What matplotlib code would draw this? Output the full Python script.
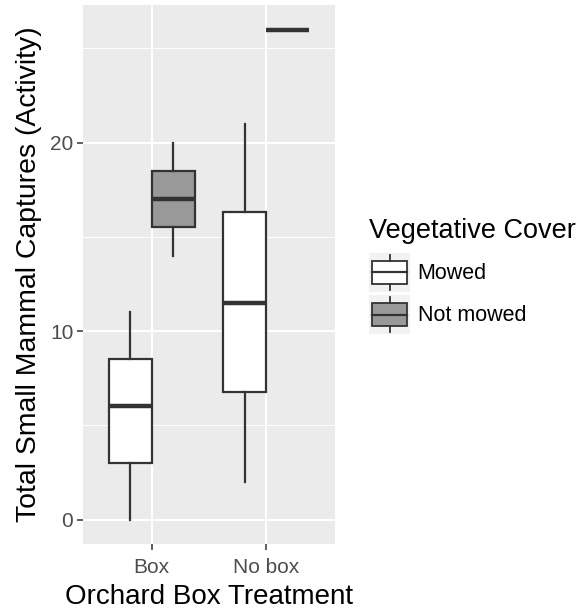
import matplotlib
matplotlib.use("Agg")
import matplotlib.pyplot as plt
from matplotlib import patches
from matplotlib.lines import Line2D
from matplotlib.legend_handler import HandlerBase

plt.rcParams['font.family'] = ['Liberation Sans', 'DejaVu Sans']

# data
treatments = ["Box", "No box"]
cover = ["Mowed", "Not mowed"]
fills = {"Mowed": "#FFFFFF", "Not mowed": "#999999"}
whisker_lo = {"Mowed": [0, 2], "Not mowed": [14, 26]}
q1 = {"Mowed": [3, 6.75], "Not mowed": [15.5, 26]}
median = {"Mowed": [6, 11.5], "Not mowed": [17, 26]}
q3 = {"Mowed": [8.5, 16.3], "Not mowed": [18.5, 26]}
whisker_hi = {"Mowed": [11, 21], "Not mowed": [20, 26]}

edge = "#333333"
fig = plt.figure(figsize=(5.87, 6.10), dpi=100)
ax = fig.add_axes([83 / 587, (610 - 544) / 610, (335 - 83) / 587, (544 - 5) / 610])
ax.set_facecolor("#EBEBEB")
for s in ax.spines.values():
    s.set_visible(False)

dodge = 0.1875
width = 0.375
for j, c in enumerate(cover):
    stats = []
    for i in range(len(treatments)):
        stats.append(dict(whislo=whisker_lo[c][i], q1=q1[c][i], med=median[c][i],
                          q3=q3[c][i], whishi=whisker_hi[c][i], fliers=[]))
    pos = [i + 1 + (j - 0.5) * 2 * dodge for i in range(len(treatments))]
    ax.bxp(stats, positions=pos, widths=width, showcaps=False, patch_artist=True,
           boxprops=dict(facecolor=fills[c], edgecolor=edge, linewidth=1.6),
           medianprops=dict(color=edge, linewidth=3.2, solid_capstyle="butt"),
           whiskerprops=dict(color=edge, linewidth=1.6), manage_ticks=False, zorder=3)

ax.set_xlim(0.4, 2.6)
ax.set_ylim(-1.3, 27.3)
ax.set_xticks([1, 2])
ax.set_xticklabels(treatments)
ax.set_yticks([0, 10, 20])
ax.set_yticks([5, 15, 25], minor=True)
ax.grid(True, which="major", color="white", linewidth=1.5, zorder=0)
ax.grid(True, which="minor", color="white", linewidth=0.7, zorder=0)
ax.set_axisbelow(True)
ax.tick_params(axis="both", which="major", color=edge, length=4, width=1.1,
               labelsize=15, labelcolor="#4D4D4D", pad=3)
ax.tick_params(axis="both", which="minor", length=0)
ax.tick_params(axis="x", pad=6)
ax.set_xlabel("Orchard Box Treatment", fontsize=20, labelpad=5)
ax.set_ylabel("Total Small Mammal Captures (Activity)", fontsize=20.4, labelpad=6)


class BoxKey(HandlerBase):
    def create_artists(self, legend, orig, xd, yd, w, h, fontsize, trans):
        x0, y0 = -xd, -yd
        bg = patches.Rectangle((x0, y0), w, h, facecolor="#F2F2F2",
                               edgecolor="none", transform=trans)
        bx = patches.Rectangle((x0 + w * 0.08, y0 + h * 0.2), w * 0.84, h * 0.6,
                               facecolor=orig.get_facecolor(), edgecolor=edge,
                               linewidth=1.3, transform=trans)
        mid = Line2D([x0 + w * 0.08, x0 + w * 0.92], [y0 + h / 2] * 2, color=edge,
                     linewidth=1.6, transform=trans)
        top = Line2D([x0 + w / 2] * 2, [y0 + h * 0.8, y0 + h * 0.95], color=edge,
                     linewidth=1.3, transform=trans)
        bot = Line2D([x0 + w / 2] * 2, [y0 + h * 0.05, y0 + h * 0.2], color=edge,
                     linewidth=1.3, transform=trans)
        return [bg, bx, mid, top, bot]


handles = [patches.Rectangle((0, 0), 1, 1, facecolor=fills[c]) for c in cover]
leg = fig.legend(handles, cover, handler_map={patches.Rectangle: BoxKey()},
                 loc="upper left", bbox_to_anchor=(354 / 587, 1 - 203 / 610),
                 title="Vegetative Cover", title_fontsize=19.5, fontsize=15.5,
                 frameon=False, handlelength=1.9, handleheight=2.45, handletextpad=0.35,
                 labelspacing=0.12, alignment="left", borderpad=0.2)
# a bit more room between the title and the keys
leg._legend_box.sep = 6.2

fig.savefig("out.png", dpi=100)
